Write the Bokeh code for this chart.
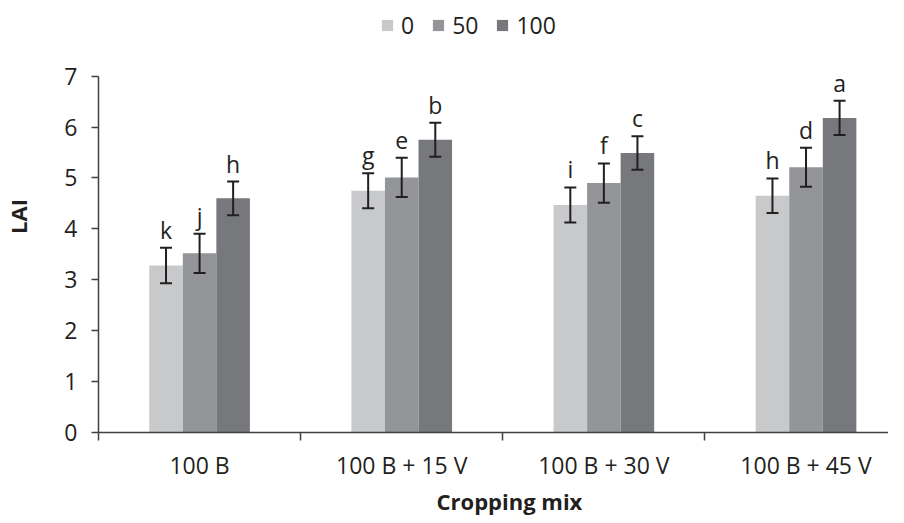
import numpy as np
from bokeh.plotting import figure
from bokeh.models import (ColumnDataSource, Range1d, FixedTicker, Whisker, TeeHead,
                          LabelSet, Title)
from bokeh.core.properties import value
from bokeh.embed import file_html
from bokeh.resources import INLINE

categories = ["100 B", "100 B + 15 V", "100 B + 30 V", "100 B + 45 V"]
series_names = ["0", "50", "100"]
lai_0 = [3.28, 4.75, 4.47, 4.65]
lai_50 = [3.52, 5.01, 4.90, 5.21]
lai_100 = [4.60, 5.75, 5.49, 6.18]
err_0 = [0.35, 0.345, 0.345, 0.34]
err_50 = [0.385, 0.385, 0.385, 0.385]
err_100 = [0.33, 0.335, 0.33, 0.335]
letters_0 = ["k", "g", "i", "h"]
letters_50 = ["j", "e", "f", "d"]
letters_100 = ["h", "b", "c", "a"]
y_ticks = [0, 1, 2, 3, 4, 5, 6, 7]
y_max = 7

colors = ["#c8c9cb", "#949598", "#77787c"]
FONT = "Open Sans"
TXT = "#231f20"
AX = "#404040"

p = figure(width=888, height=515, output_backend="svg", toolbar_location=None,
           x_range=Range1d(0, 3.908), y_range=Range1d(0, 8.486),
           min_border_left=88, min_border_right=0, min_border_top=0,
           min_border_bottom=81)
p.outline_line_color = None
p.xgrid.visible = False
p.ygrid.visible = False

bar_w = 0.166
offsets = [-bar_w, 0.0, bar_w]
centers = np.arange(len(categories)) + 0.5
vals = [lai_0, lai_50, lai_100]
errs = [err_0, err_50, err_100]
lets = [letters_0, letters_50, letters_100]

for k in range(3):
    v = np.array(vals[k]); e = np.array(errs[k])
    src = ColumnDataSource(dict(x=centers + offsets[k], top=v, lower=v - e,
                                upper=v + e, lab=lets[k]))
    p.vbar(x="x", top="top", width=bar_w, source=src, fill_color=colors[k],
           line_color=None, legend_label=series_names[k])
    w = Whisker(base="x", lower="lower", upper="upper", source=src,
                line_color=TXT, line_width=2, level="overlay",
                upper_head=TeeHead(size=12, line_color=TXT, line_width=2),
                lower_head=TeeHead(size=12, line_color=TXT, line_width=2))
    p.add_layout(w)
    ls = LabelSet(x="x", y="upper", text="lab", source=src, text_align="center",
                  text_baseline="alphabetic", y_offset=9, text_color=TXT,
                  text_font=value(FONT), text_font_size=value("23px"))
    p.add_layout(ls)

# x axis
xa = p.xaxis[0]
xa.ticker = FixedTicker(ticks=list(centers), minor_ticks=[0, 1, 2, 3, 4])
xa.major_label_overrides = {float(c): n for c, n in zip(centers, categories)}
xa.major_tick_out = 0
xa.major_tick_in = 0
xa.minor_tick_out = 8
xa.minor_tick_in = 0
xa.minor_tick_line_color = AX
xa.minor_tick_line_width = 1.5
xa.axis_line_color = AX
xa.axis_line_width = 1.5
xa.major_label_text_font = FONT
xa.major_label_text_font_size = "23px"
xa.major_label_text_color = TXT
xa.major_label_standoff = 8

p.add_layout(Title(text="Cropping mix", align="left", offset=338, standoff=0,
                   text_font=FONT, text_font_style="bold", text_font_size="22px",
                   text_color=TXT), "below")

ya = p.yaxis[0]
ya.ticker = FixedTicker(ticks=y_ticks, minor_ticks=[])
ya.bounds = (0, y_max)
ya.major_tick_out = 7
ya.major_tick_in = 0
ya.major_tick_line_color = AX
ya.major_tick_line_width = 1.5
ya.axis_line_color = AX
ya.axis_line_width = 1.5
ya.major_label_text_font = FONT
ya.major_label_text_font_size = "23px"
ya.major_label_text_color = TXT
ya.major_label_standoff = 14
ya.axis_label = "LAI"
ya.axis_label_text_font = FONT
ya.axis_label_text_font_style = "bold"
ya.axis_label_text_font_size = "22px"
ya.axis_label_text_color = TXT
ya.axis_label_standoff = 28

lg = p.legend[0]
lg.orientation = "horizontal"
lg.location = (282, 391)
lg.background_fill_alpha = 0
lg.border_line_color = None
lg.padding = 0
lg.margin = 0
lg.spacing = 17
lg.glyph_width = 14
lg.glyph_height = 14
lg.label_width = 0
lg.label_standoff = 7
lg.label_text_font = FONT
lg.label_text_font_size = "23px"
lg.label_text_color = TXT

open("out.html", "w").write(file_html(p, INLINE))
